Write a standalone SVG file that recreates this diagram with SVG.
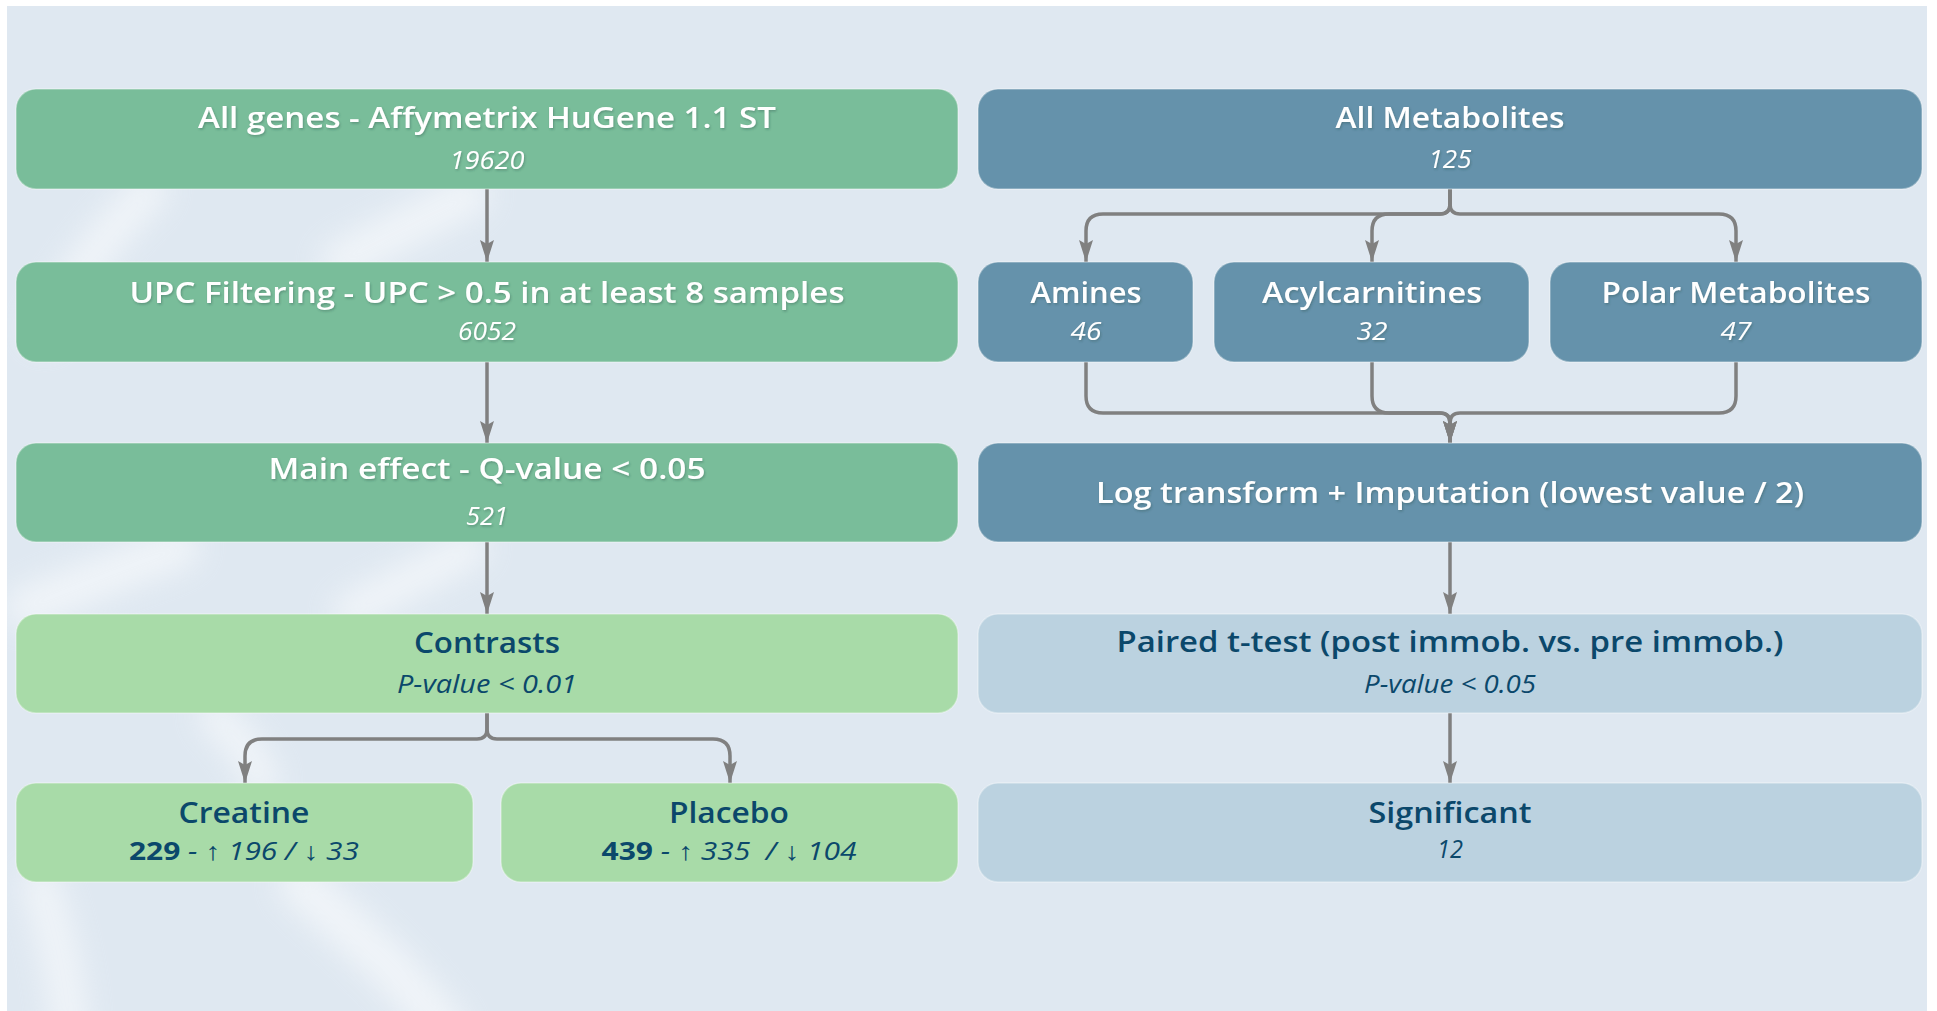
<svg xmlns="http://www.w3.org/2000/svg" width="1937" height="1011" viewBox="0 0 1937 1011">
  <defs>
    <style>
      .box { stroke: #ffffff; stroke-opacity: 0.35; stroke-width: 1.5; }
      .g-dark { fill: #79bd9a; }
      .g-light { fill: #a8dba8; }
      .b-dark { fill: #6592ab; }
      .b-light { fill: #bbd2e0; }
      .t { font-family: "Open Sans", "Liberation Sans", sans-serif; text-anchor: middle; }
      .title { font-size: 29px; font-weight: 600; }
      .num { font-size: 25px; font-style: italic; }
      .bold { font-weight: 700; font-style: normal; }
      .on-dark { fill: #ffffff; filter: url(#txtShadow); }
      .on-light { fill: #0b486b; }
      .link { fill: none; stroke: #808080; stroke-width: 3.5; stroke-linejoin: round; }
      .arrow { marker-end: url(#head); }
      .beam { fill: none; stroke: #ffffff; stroke-linecap: round; }
    </style>
    <marker id="head" markerUnits="userSpaceOnUse" markerWidth="14" markerHeight="22" refX="7" refY="22" orient="0" viewBox="0 0 14 22">
      <path d="M0,0 L7,4 L14,0 L7,22 Z" fill="#808080"/>
    </marker>
    <filter id="txtShadow" x="-5%" y="-30%" width="110%" height="160%">
      <feDropShadow dx="1" dy="1.5" stdDeviation="1" flood-color="#2a4a40" flood-opacity="0.35"/>
    </filter>
    <filter id="soft" filterUnits="userSpaceOnUse" x="7" y="6" width="1920" height="1005">
      <feGaussianBlur stdDeviation="15"/>
    </filter>
  </defs>

  <!-- page and panel -->
  <rect x="0" y="0" width="1937" height="1011" fill="#ffffff"/>
  <rect x="7" y="6" width="1920" height="1005" fill="#dfe8f1"/>

  <!-- soft light sweeps in the panel background -->
  <g id="background-sweeps" opacity="0.55" filter="url(#soft)">
    <path class="beam" stroke-width="36" d="M150 190 C 110 230, 70 280, 45 330"/>
    <path class="beam" stroke-width="40" d="M470 195 C 430 215, 380 240, 340 262"/>
    <path class="beam" stroke-width="40" d="M180 548 C 130 565, 80 585, 25 608"/>
    <path class="beam" stroke-width="36" d="M470 548 C 430 570, 390 590, 350 612"/>
    <path class="beam" stroke-width="34" d="M215 716 C 240 740, 255 760, 262 782"/>
    <path class="beam" stroke-width="44" d="M300 884 C 350 930, 400 970, 445 1030"/>
    <path class="beam" stroke-width="36" d="M40 884 C 55 930, 65 970, 70 1030"/>
  </g>

  <!-- connectors -->
  <g id="connectors">
    <!-- gene column -->
    <path class="link arrow" d="M487 189 L487 262"/>
    <path class="link arrow" d="M487 362 L487 443"/>
    <path class="link arrow" d="M487 542 L487 614"/>
    <path class="link arrow" d="M487 713 L487 729 Q487 739 477 739 L262 739 Q245 739 245 756 L245 783"/>
    <path class="link arrow" d="M487 713 L487 729 Q487 739 497 739 L713 739 Q730 739 730 756 L730 783"/>
    <!-- metabolite column: split -->
    <path class="link arrow" d="M1450 189 L1450 204 Q1450 214 1440 214 L1103 214 Q1086 214 1086 231 L1086 262"/>
    <path class="link arrow" d="M1450 189 L1450 204 Q1450 214 1440 214 L1389 214 Q1372 214 1372 231 L1372 262"/>
    <path class="link arrow" d="M1450 189 L1450 204 Q1450 214 1460 214 L1719 214 Q1736 214 1736 231 L1736 262"/>
    <!-- metabolite column: merge -->
    <path class="link arrow" d="M1086 362 L1086 396 Q1086 413 1103 413 L1440 413 Q1450 413 1450 423 L1450 443"/>
    <path class="link arrow" d="M1372 362 L1372 396 Q1372 413 1389 413 L1440 413 Q1450 413 1450 423 L1450 443"/>
    <path class="link arrow" d="M1736 362 L1736 396 Q1736 413 1719 413 L1460 413 Q1450 413 1450 423 L1450 443"/>
    <path class="link arrow" d="M1450 542 L1450 614"/>
    <path class="link arrow" d="M1450 713 L1450 783"/>
  </g>

  <!-- gene expression pipeline -->
  <g id="all-genes">
    <rect class="box g-dark" x="16" y="89" width="942" height="100" rx="20"/>
    <text class="t title on-dark" x="487" y="128" textLength="578" lengthAdjust="spacingAndGlyphs">All genes - Affymetrix HuGene 1.1 ST</text>
    <text class="t num on-dark" x="487" y="169" textLength="75" lengthAdjust="spacingAndGlyphs">19620</text>
  </g>
  <g id="upc-filtering">
    <rect class="box g-dark" x="16" y="262" width="942" height="100" rx="20"/>
    <text class="t title on-dark" x="487" y="303" textLength="715" lengthAdjust="spacingAndGlyphs">UPC Filtering - UPC &gt; 0.5 in at least 8 samples</text>
    <text class="t num on-dark" x="487" y="340" textLength="58" lengthAdjust="spacingAndGlyphs">6052</text>
  </g>
  <g id="main-effect">
    <rect class="box g-dark" x="16" y="443" width="942" height="99" rx="20"/>
    <text class="t title on-dark" x="487" y="479" textLength="437" lengthAdjust="spacingAndGlyphs">Main effect - Q-value &lt; 0.05</text>
    <text class="t num on-dark" x="487" y="525" textLength="42" lengthAdjust="spacingAndGlyphs">521</text>
  </g>
  <g id="contrasts">
    <rect class="box g-light" x="16" y="614" width="942" height="99" rx="20"/>
    <text class="t title on-light" x="487" y="653" textLength="146" lengthAdjust="spacingAndGlyphs">Contrasts</text>
    <text class="t num on-light" x="487" y="693" textLength="180" lengthAdjust="spacingAndGlyphs">P-value &lt; 0.01</text>
  </g>
  <g id="creatine">
    <rect class="box g-light" x="16" y="783" width="457" height="99" rx="20"/>
    <text class="t title on-light" x="244" y="823" textLength="131" lengthAdjust="spacingAndGlyphs">Creatine</text>
    <text class="t num on-light" x="244" y="860" textLength="230" lengthAdjust="spacingAndGlyphs"><tspan class="bold">229</tspan> - ↑ 196 / ↓ 33</text>
  </g>
  <g id="placebo">
    <rect class="box g-light" x="501" y="783" width="457" height="99" rx="20"/>
    <text class="t title on-light" x="729" y="823" textLength="120" lengthAdjust="spacingAndGlyphs">Placebo</text>
    <text class="t num on-light" x="729" y="860" textLength="255" lengthAdjust="spacingAndGlyphs" xml:space="preserve"><tspan class="bold">439</tspan> - ↑ 335  / ↓ 104</text>
  </g>

  <!-- metabolomics pipeline -->
  <g id="all-metabolites">
    <rect class="box b-dark" x="978" y="89" width="944" height="100" rx="20"/>
    <text class="t title on-dark" x="1450" y="128" textLength="229" lengthAdjust="spacingAndGlyphs">All Metabolites</text>
    <text class="t num on-dark" x="1450" y="168" textLength="43" lengthAdjust="spacingAndGlyphs">125</text>
  </g>
  <g id="amines">
    <rect class="box b-dark" x="978" y="262" width="215" height="100" rx="20"/>
    <text class="t title on-dark" x="1086" y="303" textLength="111" lengthAdjust="spacingAndGlyphs">Amines</text>
    <text class="t num on-dark" x="1086" y="340" textLength="31" lengthAdjust="spacingAndGlyphs">46</text>
  </g>
  <g id="acylcarnitines">
    <rect class="box b-dark" x="1214" y="262" width="315" height="100" rx="20"/>
    <text class="t title on-dark" x="1372" y="303" textLength="220" lengthAdjust="spacingAndGlyphs">Acylcarnitines</text>
    <text class="t num on-dark" x="1372" y="340" textLength="31" lengthAdjust="spacingAndGlyphs">32</text>
  </g>
  <g id="polar-metabolites">
    <rect class="box b-dark" x="1550" y="262" width="372" height="100" rx="20"/>
    <text class="t title on-dark" x="1736" y="303" textLength="269" lengthAdjust="spacingAndGlyphs">Polar Metabolites</text>
    <text class="t num on-dark" x="1736" y="340" textLength="31" lengthAdjust="spacingAndGlyphs">47</text>
  </g>
  <g id="log-transform">
    <rect class="box b-dark" x="978" y="443" width="944" height="99" rx="20"/>
    <text class="t title on-dark" x="1450" y="503" textLength="708" lengthAdjust="spacingAndGlyphs">Log transform + Imputation (lowest value / 2)</text>
  </g>
  <g id="paired-t-test">
    <rect class="box b-light" x="978" y="614" width="944" height="99" rx="20"/>
    <text class="t title on-light" x="1450" y="652" textLength="667" lengthAdjust="spacingAndGlyphs">Paired t-test (post immob. vs. pre immob.)</text>
    <text class="t num on-light" x="1450" y="693" textLength="172" lengthAdjust="spacingAndGlyphs">P-value &lt; 0.05</text>
  </g>
  <g id="significant">
    <rect class="box b-light" x="978" y="783" width="944" height="99" rx="20"/>
    <text class="t title on-light" x="1450" y="823" textLength="163" lengthAdjust="spacingAndGlyphs">Significant</text>
    <text class="t num on-light" x="1450" y="858" textLength="26" lengthAdjust="spacingAndGlyphs">12</text>
  </g>
</svg>
